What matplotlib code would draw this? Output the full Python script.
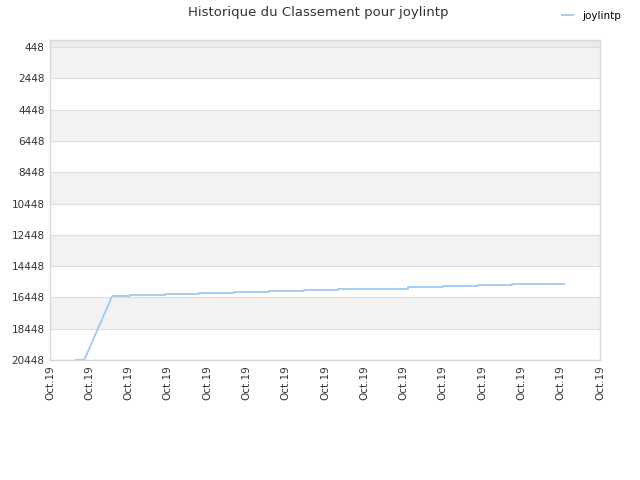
import numpy as np
import matplotlib
matplotlib.use("Agg")
import matplotlib.pyplot as plt

# ---- data ----
player = "joylintp"
title = "Historique du Classement pour joylintp"

# x positions in tick units (one tick per label, 15 labels)
x_labels = ["Oct.19"] * 15

# first part: entry and climb
climb_x = [0.64, 0.87, 1.58]
climb_rank = [20448, 20448, 16390]

# second part: daily step improvements
step_x = [1.58, 2.04, 2.93, 3.79, 4.68, 5.57, 6.47, 7.33,
          8.22, 9.11, 10.00, 10.89, 11.76, 12.65, 13.11]
step_rank = [16390, 16300, 16250, 16190, 16120, 16060, 16000, 15940,
             15880, 15800, 15730, 15670, 15620, 15560, 15560]

y_ticks = [448, 2448, 4448, 6448, 8448, 10448, 12448, 14448, 16448, 18448, 20448]

LINE_COLOR = "#9ec9f5"
GRID_COLOR = "#dddddd"
TEXT_COLOR = "#333333"

fig = plt.figure(figsize=(6.4, 4.8), dpi=100)
ax = fig.add_axes([50 / 640, 120 / 480, 550 / 640, 320 / 480])

# alternating bands
ax.axhspan(0, 448, color="#ebebeb", zorder=0, lw=0)
for i in range(0, len(y_ticks) - 1, 2):
    ax.axhspan(y_ticks[i], y_ticks[i + 1], color="#f2f2f2", zorder=0, lw=0)

for t in y_ticks:
    ax.axhline(t, color=GRID_COLOR, lw=0.8, zorder=1)

ax.plot(climb_x, climb_rank, color=LINE_COLOR, lw=1.3, zorder=3,
        solid_capstyle="butt", label=player)
ax.plot(step_x, step_rank, color=LINE_COLOR, lw=1.3, zorder=3,
        drawstyle="steps-post", solid_capstyle="butt")

ax.set_xlim(0, 14)
ax.set_ylim(20448, 0)
ax.set_yticks(y_ticks)
ax.set_yticklabels([str(t) for t in y_ticks], fontsize=7.5, color=TEXT_COLOR)
ax.set_xticks(range(len(x_labels)))
ax.set_xticklabels(x_labels, rotation=90, fontsize=7.5, color=TEXT_COLOR)
ax.tick_params(length=0, pad=4)

for s in ax.spines.values():
    s.set_color("#d8d8d8")
    s.set_linewidth(1)

fig.text(0.497, 0.988, title, ha="center", va="top", fontsize=9.5, color=TEXT_COLOR)
fig.legend(loc="upper right", bbox_to_anchor=(0.985, 0.997), frameon=False,
           fontsize=7.5, handlelength=1.2, handletextpad=0.8)

plt.savefig("out.png", dpi=100)
